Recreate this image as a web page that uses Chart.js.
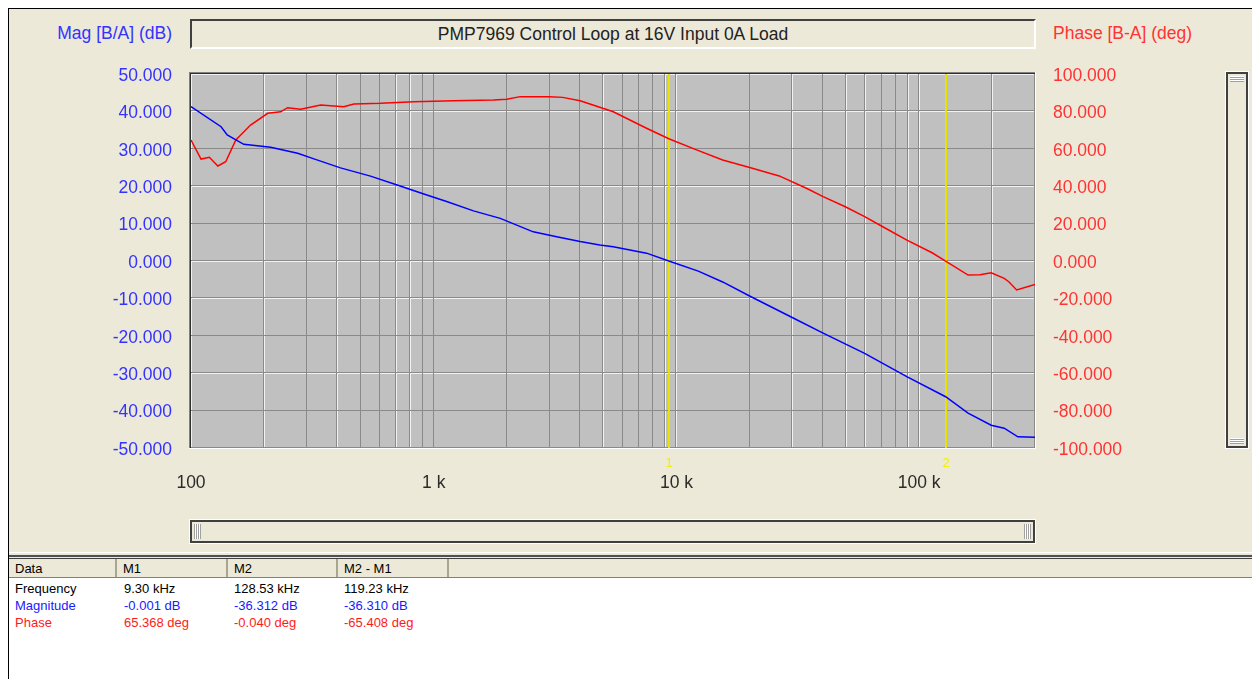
<!DOCTYPE html>
<html>
<head>
<meta charset="utf-8">
<script src="https://cdn.jsdelivr.net/npm/chart.js@4.4.1/dist/chart.umd.min.js"></script>
<style>
  body { margin: 0; width: 1252px; height: 679px; overflow: hidden; background: #fff;
         font-family: "Liberation Sans", Arial, sans-serif; }
  .abs { position: absolute; }
  #win { left: 8px; top: 8px; width: 1244px; height: 671px; background: #ece9d8;
         border-left: 1px solid #000; border-top: 1px solid #000; box-sizing: border-box; }
  #titleBox { left: 190px; top: 19px; width: 846px; height: 30px; box-sizing: border-box;
              border-top: 2px solid #404040; border-left: 2px solid #404040;
              border-right: 2px solid #fff; border-bottom: 2px solid #fff;
              font-size: 17.5px; color: #222; text-align: center; line-height: 27px; }
  .axTitle { top: 23px; font-size: 17.5px; line-height: 21px; white-space: nowrap; }
  .sunken { box-sizing: border-box; border: 2px solid #404040;
            outline: 1px solid #fff; background: #ece9d8; }
  .grip { background: repeating-linear-gradient(90deg, #a0a0a0 0 1px, #fff 1px 2px); }
  .gripV { background: repeating-linear-gradient(0deg, #a0a0a0 0 1px, #fff 1px 2px); }
  #tableHead { left: 9px; top: 558px; width: 1243px; height: 20px; background: #ece9d8;
               border-top: 1px solid #404040; border-bottom: 1px solid #808080; box-sizing: border-box; }
  .hcell { top: 0; height: 18px; font-size: 13px; line-height: 19px; padding-left: 6px; box-sizing: border-box;
           border-right: 2px solid #a8a590; color: #000; }
  #tableBody { left: 9px; top: 578px; width: 1243px; height: 101px; background: #fff; }
  .cell { font-size: 13px; line-height: 17px; white-space: nowrap; }
  canvas { position: absolute; left: 0; top: 0; z-index: 2; }
</style>
</head>
<body>
<div id="win" class="abs"></div>
<div id="titleBox" class="abs">PMP7969 Control Loop at 16V Input 0A Load</div>
<div class="abs axTitle" style="right:1080px; color:#3333ff;">Mag [B/A] (dB)</div>
<div class="abs axTitle" style="left:1053px; color:#ff3333;">Phase [B-A] (deg)</div>

<!-- barra horizontal -->
<div class="abs sunken" style="left:190px; top:520px; width:845px; height:23px;"></div>
<div class="abs grip" style="left:194px; top:524px; width:7px; height:15px;"></div>
<div class="abs grip" style="left:1024px; top:524px; width:7px; height:15px;"></div>
<!-- barra vertical -->
<div class="abs sunken" style="left:1226px; top:72px; width:22px; height:376px;"></div>
<div class="abs gripV" style="left:1230px; top:76px; width:14px; height:6px;"></div>
<div class="abs gripV" style="left:1230px; top:438px; width:14px; height:6px;"></div>

<!-- panel de datos -->
<div class="abs" style="left:9px; top:552px; width:1243px; height:1px; background:#fff;"></div>
<div class="abs" style="left:9px; top:555px; width:1243px; height:2px; background:#505050;"></div>
<div id="tableHead" class="abs">
  <div class="abs hcell" style="left:0; width:108px;">Data</div>
  <div class="abs hcell" style="left:108px; width:111px;">M1</div>
  <div class="abs hcell" style="left:219px; width:110px;">M2</div>
  <div class="abs hcell" style="left:329px; width:111px;">M2 - M1</div>
</div>
<div id="tableBody" class="abs"></div>

<canvas id="bode" width="1252" height="679"></canvas>

<script>
// frecuencias (Hz) y valores
const magFreq = [100, 133, 141, 165, 213, 275, 321, 413, 549, 707, 910, 1130, 1458, 1880, 2570, 3210,
  4010, 4830, 5490, 7530, 9300, 12300, 15500, 20200, 30400, 40200, 59600, 88900, 128500, 159000,
  198000, 224000, 255000, 300000];
const magDb = [41.3, 35.9, 33.7, 31.2, 30.4, 28.8, 27.3, 24.9, 22.7, 20.3, 17.9, 15.9, 13.4, 11.4, 7.8, 6.5,
  5.2, 4.3, 3.8, 2.1, 0.0, -2.7, -5.6, -9.5, -15.3, -19.3, -24.7, -30.9, -36.3, -40.7,
  -43.9, -44.7, -47.0, -47.1];

const phaseFreq = [100, 110, 119, 129, 139, 153, 176, 207, 234, 250, 283, 342, 426, 469, 604, 828, 1210,
  1764, 2000, 2270, 3000, 3400, 4010, 4830, 5490, 7530, 9300, 12100, 15500, 20200, 26500, 34300, 40200,
  49600, 59600, 70800, 89000, 113000, 128500, 159000, 178000, 198000, 224000, 234000, 252000, 300000];
const phaseDeg = [64.7, 54.5, 55.5, 50.8, 53.1, 64.7, 72.7, 79.0, 79.8, 82.0, 81.1, 83.4, 82.5, 84.0, 84.3, 85.2, 85.7,
  86.1, 86.5, 87.9, 87.9, 87.5, 85.7, 82.2, 79.8, 71.0, 65.4, 59.4, 54.0, 49.9, 45.5, 38.9, 34.4,
  29.0, 23.7, 18.3, 11.2, 4.4, -0.04, -7.5, -7.3, -6.3, -9.3, -11.1, -15.5, -12.5];

const decadeTicks = [100, 1000, 10000, 100000];
const decadeLabels = ["100", "1 k", "10 k", "100 k"];

const markerFreqs = [9300, 128530];
const markerLabels = ["1", "2"];

// tabla de marcadores
const tableRows = ["Frequency", "Magnitude", "Phase"];
const tableColors = ["#000000", "#1a1aff", "#ff1a1a"];
const colM1 = ["9.30 kHz", "-0.001 dB", "65.368 deg"];
const colM2 = ["128.53 kHz", "-36.312 dB", "-0.040 deg"];
const colDiff = ["119.23 kHz", "-36.310 dB", "-65.408 deg"];

const body = document.getElementById("tableBody");
const colX = [6, 115, 225, 335];
tableRows.forEach(function (name, i) {
  [name, colM1[i], colM2[i], colDiff[i]].forEach(function (txt, j) {
    const d = document.createElement("div");
    d.className = "abs cell";
    d.textContent = txt;
    d.style.left = colX[j] + "px";
    d.style.top = (2 + i * 17) + "px";
    d.style.color = tableColors[i];
    body.appendChild(d);
  });
});

// lineas de rejilla en cada 1..9 x decada
const gridFreqs = [];
for (let d = 100; d <= 100000; d *= 10) {
  for (let k = 1; k <= 9; k++) {
    if (k * d <= 300000) gridFreqs.push(k * d);
  }
}

const FONT = '"Liberation Sans", Arial, sans-serif';

const plotFrame = {
  id: "plotFrame",
  beforeDraw(chart) {
    const a = chart.chartArea;
    const ctx = chart.ctx;
    ctx.save();
    ctx.fillStyle = "#c0c0c0";
    ctx.fillRect(a.left, a.top, a.right - a.left, a.bottom - a.top);
    ctx.restore();
  },
  beforeDatasetsDraw(chart) {
    const a = chart.chartArea;
    const ctx = chart.ctx;
    const xs = chart.scales.x;
    const ys = chart.scales.yMag;
    const h = a.bottom - a.top;
    ctx.save();
    // sombra oscura de la rejilla
    ctx.fillStyle = "#8a8a8a";
    xs.ticks.forEach(function (t) {
      const px = Math.round(xs.getPixelForValue(t.value));
      ctx.fillRect(px - 1, a.top, 1, h);
    });
    ys.ticks.forEach(function (t) {
      const py = Math.round(ys.getPixelForValue(t.value));
      ctx.fillRect(a.left, py - 1, a.right - a.left, 1);
    });
    // marcadores
    ctx.font = "13px " + FONT;
    ctx.textAlign = "center";
    ctx.textBaseline = "middle";
    for (let i = 0; i < markerFreqs.length; i++) {
      const px = Math.round(xs.getPixelForValue(markerFreqs[i]));
      ctx.fillStyle = "#e8e200";
      ctx.fillRect(px - 1, a.top, 2, h);
      ctx.fillStyle = "#f0f000";
      ctx.fillText(markerLabels[i], px, a.bottom + 15);
    }
    ctx.restore();
  },
  afterDatasetsDraw(chart) {
    const a = chart.chartArea;
    const ctx = chart.ctx;
    const w = a.right - a.left;
    const h = a.bottom - a.top;
    ctx.save();
    ctx.fillStyle = "#808080";
    ctx.fillRect(a.left - 2, a.top - 2, w + 2, 1);
    ctx.fillRect(a.left - 2, a.top - 2, 1, h + 2);
    ctx.fillStyle = "#303030";
    ctx.fillRect(a.left - 1, a.top - 1, w + 1, 1);
    ctx.fillRect(a.left - 1, a.top - 1, 1, h + 1);
    ctx.fillStyle = "#ffffff";
    ctx.fillRect(a.left - 2, a.bottom, w + 3, 1);
    ctx.fillRect(a.right, a.top - 2, 1, h + 3);
    ctx.restore();
  }
};

new Chart(document.getElementById("bode"), {
  type: "line",
  data: {
    datasets: [
      {
        label: "Magnitude",
        data: magFreq.map(function (f, i) { return { x: f, y: magDb[i] }; }),
        borderColor: "#0000ff",
        borderWidth: 1.5,
        pointRadius: 0,
        tension: 0,
        yAxisID: "yMag",
      },
      {
        label: "Phase",
        data: phaseFreq.map(function (f, i) { return { x: f, y: phaseDeg[i] }; }),
        borderColor: "#ff0000",
        borderWidth: 1.5,
        pointRadius: 0,
        tension: 0,
        yAxisID: "yPhase",
      },
    ],
  },
  options: {
    responsive: false,
    animation: false,
    devicePixelRatio: 1,
    layout: { padding: { top: 74, left: 0, right: 0, bottom: 0 } },
    plugins: {
      legend: { display: false },
      tooltip: { enabled: false },
    },
    scales: {
      x: {
        type: "logarithmic",
        position: "bottom",
        min: 100,
        max: 300000,
        border: { display: false },
        grid: { color: "#f2f2f2", lineWidth: 1, drawTicks: false },
        afterBuildTicks: function (s) {
          s.ticks = gridFreqs.map(function (v) { return { value: v }; });
        },
        afterFit: function (s) { s.height = 231; },
        ticks: {
          autoSkip: false,
          maxRotation: 0,
          padding: 25,
          color: "#2b2b2b",
          font: { family: FONT, size: 17.5 },
          callback: function (v) {
            const i = decadeTicks.indexOf(v);
            return i >= 0 ? decadeLabels[i] : "";
          },
        },
      },
      yMag: {
        type: "linear",
        position: "left",
        min: -50,
        max: 50,
        border: { display: false },
        grid: { color: "#f2f2f2", lineWidth: 1, drawTicks: false },
        afterFit: function (s) { s.width = 191; },
        ticks: {
          stepSize: 10,
          padding: 19,
          labelOffset: 2,
          color: "#3333ff",
          font: { family: FONT, size: 17.5 },
          callback: function (v) { return v.toFixed(3); },
        },
      },
      yPhase: {
        type: "linear",
        position: "right",
        min: -100,
        max: 100,
        border: { display: false },
        grid: { display: false, drawTicks: false },
        afterFit: function (s) { s.width = 217; },
        ticks: {
          stepSize: 20,
          padding: 18,
          labelOffset: 2,
          color: "#ff3333",
          font: { family: FONT, size: 17.5 },
          callback: function (v) { return v.toFixed(3); },
        },
      },
    },
  },
  plugins: [plotFrame],
});
</script>
</body>
</html>
